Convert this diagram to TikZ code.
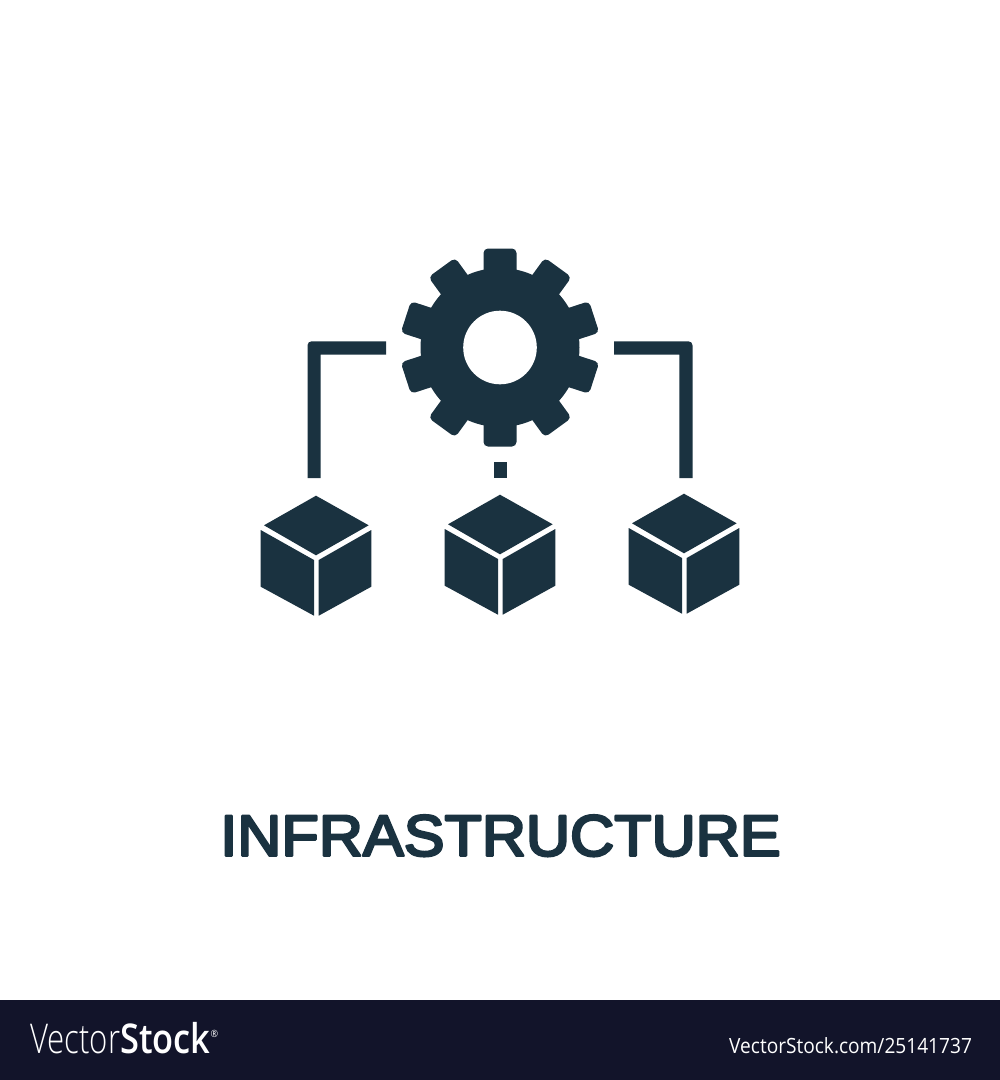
\documentclass[tikz,border=0pt]{standalone}
\usepackage{fontspec}
\setmainfont{Liberation Sans}
\newfontfamily\titlefont[FakeBold=4.4,FakeStretch=1.054]{Liberation Sans}
\newfontfamily\thinfont[FakeStretch=0.76]{Open Sans Light}
\newfontfamily\boldfont[FakeStretch=0.84]{Open Sans Semibold}
\newfontfamily\urlfont[FakeStretch=0.91]{Open Sans}
\definecolor{icon}{HTML}{1A3240}
\definecolor{bar}{HTML}{12142A}
\tikzset{
  iconfill/.style={fill=icon},
  title/.style={inner sep=0pt,text=icon,anchor=base},
  footer/.style={inner sep=0pt,text=white,anchor=base west}
}
\newcommand{\onecube}[2]{%
  \begin{scope}[shift={(#1,#2)}]
    \fill[iconfill] (316,495.7) -- (368.7,525.3) -- (316,555.3) -- (264,525.3) -- cycle;
    \fill[iconfill] (260.7,530) -- (314,560) -- (314,615.7) -- (260.7,586.7) -- cycle;
    \fill[iconfill] (371.3,530) -- (318.7,560) -- (318.7,615.7) -- (371.3,586.7) -- cycle;
  \end{scope}}
\begin{document}
\begin{tikzpicture}[x=1pt,y=-1pt]
\useasboundingbox (0,0) rectangle (1000,1080);
\fill[white] (0,0) rectangle (1000,1080);
% gear
\coordinate (gc) at (500,347.5);
\fill[iconfill] (gc) circle[radius=79.5];
\foreach \a in {0,36,...,324}
  \fill[iconfill,rotate around={\a:(gc)},rounded corners=4.5]
    (483.5,290) -- (483.5,248.5) -- (516.5,248.5) -- (516.5,290) -- cycle;
\fill[white] (gc) circle[radius=36.8];
% brackets
\fill[iconfill] (386,341.3) [rounded corners=4] -- (307.5,341.3) [sharp corners] -- (307.5,478) -- (320.7,478) -- (320.7,354.5) -- (386,354.5) -- cycle;
\fill[iconfill] (614,341.3) [rounded corners=4] -- (692.5,341.3) [sharp corners] -- (692.5,478) -- (679.3,478) -- (679.3,354.5) -- (614,354.5) -- cycle;
\fill[iconfill] (493.5,461.7) rectangle (506.5,478);
% cubes
\onecube{0}{0}
\onecube{184}{-1}
\onecube{368}{-2}
% title
\node[title] (label) at (500.5,855.7) {\special{pdf:code 1 j 1 J}\titlefont\fontsize{58}{58}\selectfont INFRASTRUCTURE};
% footer
\fill[bar] (0,1000) rectangle (1000,1080);
\node[footer] (logo) at (30,1053.5) {\fontsize{41}{41}\selectfont{\thinfont Vector}{\boldfont Stock}\raisebox{16pt}{\urlfont\fontsize{10}{10}\selectfont ®}};
\node[footer] (url) at (729,1053.5) {\urlfont\fontsize{21}{21}\selectfont VectorStock.com/25141737};
\end{tikzpicture}
\end{document}
